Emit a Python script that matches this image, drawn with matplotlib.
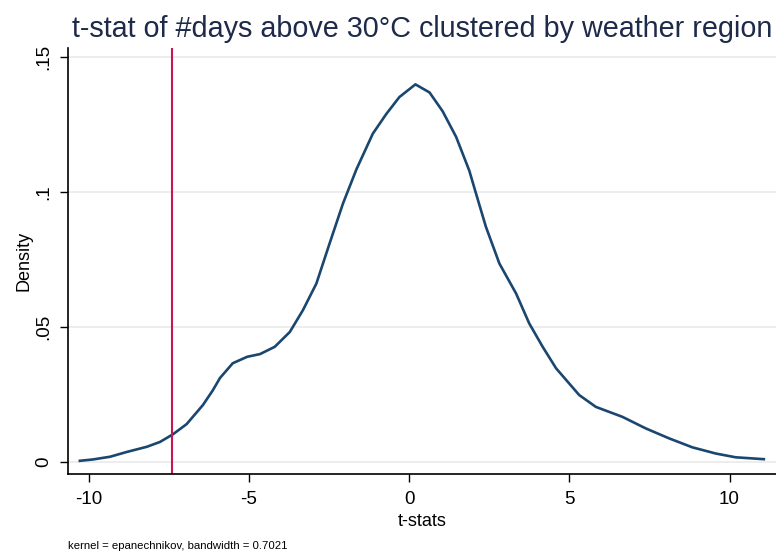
import numpy as np
import matplotlib
matplotlib.use("Agg")
import matplotlib.pyplot as plt

plt.rcParams['font.family'] = ['Liberation Sans', 'DejaVu Sans']
plt.rcParams['axes.unicode_minus'] = False

# kernel density estimate of t-stats (read off the estimate)
tstat = [-10.27, -9.86, -9.33, -8.8, -8.18, -7.77, -7.37, -6.94, -6.43, -6.12,
         -5.9, -5.5, -5.05, -4.65, -4.19, -3.72, -3.31, -2.89, -2.48, -2.06,
         -1.64, -1.13, -0.71, -0.30, 0.2, 0.64, 1.05, 1.47, 1.88, 2.09,
         2.4, 2.82, 3.34, 3.75, 4.17, 4.59, 5.31, 5.83, 6.66, 7.39,
         8.12, 8.84, 9.57, 10.19, 11.07]
density = [0.0003, 0.0008, 0.0018, 0.0036, 0.0055, 0.0073, 0.0101, 0.0139, 0.021, 0.0265,
           0.031, 0.0365, 0.0389, 0.0399, 0.0426, 0.0481, 0.0562, 0.0661, 0.0809, 0.0958,
           0.1085, 0.1217, 0.129, 0.1353, 0.140, 0.137, 0.130, 0.1205, 0.108, 0.0995,
           0.0871, 0.0735, 0.0624, 0.0513, 0.0426, 0.0346, 0.0247, 0.0203, 0.0166, 0.0123,
           0.0086, 0.0053, 0.003, 0.0016, 0.0009]
cutoff = -7.4

xticks = [-10, -5, 0, 5, 10]
yticks = [0, 0.05, 0.1, 0.15]
yticklabels = ["0", ".05", ".1", ".15"]

fig = plt.figure(figsize=(7.76, 5.57), dpi=100)
ax = fig.add_axes([68/776, 83/557, 1 - 68/776, 426/557])

ax.plot(tstat, density, color="#1a476f", lw=1.9)
ax.axvline(cutoff, color="#c8174f", lw=1.5)

ax.set_xlim(-10.64, 11.45)
ax.set_ylim(-0.0046, 0.1535)
ax.set_xticks(xticks)
ax.set_xticklabels([str(v) for v in xticks])
ax.set_yticks(yticks)
ax.set_yticklabels(yticklabels, rotation=90, va="center")
ax.tick_params(axis="both", direction="out", length=6, width=1, labelsize=13.5, colors="black")
ax.tick_params(axis="x", pad=6)
ax.tick_params(axis="y", pad=5)
ax.grid(axis="y", color="#eaeaea", lw=1.2)
ax.set_axisbelow(True)
for s in ["top", "right"]:
    ax.spines[s].set_visible(False)
for s in ["left", "bottom"]:
    ax.spines[s].set_color("black")
    ax.spines[s].set_linewidth(1.2)

ax.set_xlabel("t-stats", fontsize=13, labelpad=4)
ax.set_ylabel("Density", fontsize=13, labelpad=2)
fig.text(72/776, 1 - 29/557, "t-stat of #days above 30\u00b0C clustered by weather region",
         fontsize=20.7, color="#1e2a4a", va="center", ha="left")
fig.text(68/776, 1 - 546/557, "kernel = epanechnikov, bandwidth = 0.7021",
         fontsize=8.2, color="black", va="center", ha="left")

fig.savefig("out.png", dpi=100)
